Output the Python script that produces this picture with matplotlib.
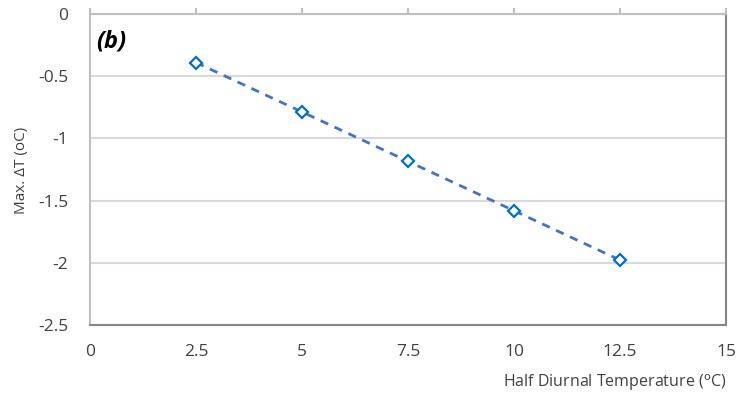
import numpy as np
import matplotlib
matplotlib.use('Agg')
import matplotlib.pyplot as plt

plt.rcParams['font.family'] = ['Open Sans', 'DejaVu Sans']

# 数据
half_diurnal = [2.5, 5, 7.5, 10, 12.5]
max_dt = [-0.39, -0.79, -1.18, -1.58, -1.98]
x_ticks = [0, 2.5, 5, 7.5, 10, 12.5, 15]
y_ticks = [0, -0.5, -1, -1.5, -2, -2.5]

fig = plt.figure(figsize=(7.55, 4.01), dpi=100)
ax = fig.add_axes([0.1192, 0.1895, 0.8424, 0.7755])

# 线性趋势线
k, b = np.polyfit(half_diurnal, max_dt, 1)
xs = np.array([half_diurnal[0], half_diurnal[-1]])
ax.plot(xs, k * xs + b, color='#4472C4', lw=2, ls=(0, (3, 2.5)), zorder=2)
ax.plot(half_diurnal, max_dt, ls='none', marker='D', ms=6, mfc='white',
        mec='#0070C0', mew=1.6, zorder=3)

ax.set_xlim(0, 15)
ax.set_ylim(-2.5, 0)
ax.set_xticks(x_ticks)
ax.set_xticklabels(['0', '2.5', '5', '7.5', '10', '12.5', '15'])
ax.set_yticks(y_ticks)
ax.set_yticklabels(['0', '-0.5', '-1', '-1.5', '-2', '-2.5'])

ax.grid(axis='y', color='#D9D9D9', lw=1.5)
ax.set_axisbelow(True)

for s in ['left', 'top']:
    ax.spines[s].set_color('#BFBFBF')
    ax.spines[s].set_linewidth(1.5)
for s in ['right', 'bottom']:
    ax.spines[s].set_color('#868686')
    ax.spines[s].set_linewidth(1.5)

# x轴刻度在上边框，标签在下方
ax.tick_params(axis='x', which='both', top=True, bottom=False, direction='out',
               length=4, width=1.5, color='#BFBFBF', labelsize=12.5,
               labelcolor='#404040', pad=10)
ax.tick_params(axis='y', left=False, labelsize=12.5, labelcolor='#404040', pad=12)

# 轴标题直接放在画布上
fig.text(22 / 755, 1 - 170 / 401, 'Max. ΔT (oC)', rotation=90, fontsize=11,
         color='#404040', ha='center', va='center')
fig.text(727 / 755, 1 - 383 / 401, 'Half Diurnal Temperature ($^{\\mathrm{o}}$C)',
         fontsize=11.5, color='#404040', ha='right', va='center')

ax.text(0.01, 0.95, '(b)', transform=ax.transAxes, fontsize=17,
        fontweight='bold', fontstyle='italic', va='top', ha='left')

fig.savefig('out.png', dpi=100)
